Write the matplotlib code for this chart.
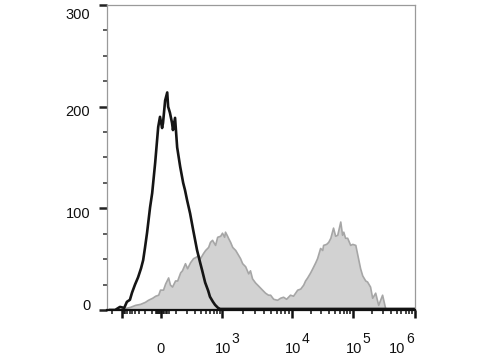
"""Flow cytometry overlay histogram: isotype (black line) vs stained (grey fill)."""

import matplotlib
matplotlib.use("Agg")
import matplotlib.pyplot as plt
import matplotlib.transforms as mtransforms
import numpy as np

plt.rcParams.update({
    "font.family": ["Liberation Sans", "DejaVu Sans"],
    "font.size": 10,
})

# channel (0-1024 display scale) vs event counts
ctrl_ch = [10, 27, 43, 57, 66, 76, 83, 93, 103, 113, 120, 126, 133, 143, 150,
           160, 170, 176, 183, 186, 193, 200, 203, 209, 216, 219, 226, 233,
           243, 253, 259, 266, 276, 286, 299, 309, 316, 326, 336, 342, 352,
           359, 369, 376, 400, 450, 500, 550, 600, 650, 700, 750, 800, 850,
           900, 950, 1000, 1024]
ctrl_cnt = [0, 0, 3, 2, 8, 10, 17, 25, 32, 41, 49, 61, 76, 101, 115,
            145, 180, 190, 179, 184, 206, 214, 200, 194, 184, 177, 189, 160,
            141, 125, 118, 108, 95, 79, 59, 47, 39, 27, 19, 13, 8,
            5, 2, 1, 1, 1, 1, 1, 1, 1, 1, 1, 1, 1,
            1, 1, 1, 1]

stain_ch = [50, 60, 76, 93, 110, 126, 136, 150, 160, 170, 176, 186, 193, 203,
            209, 216, 226, 233, 243, 249, 259, 266, 276, 286, 293, 303, 309,
            319, 326, 336, 342, 349, 359, 366, 376, 382, 389, 392, 399, 402,
            409, 416, 426, 432, 442, 449, 459, 469, 475, 482, 492, 502, 515,
            525, 535, 542, 552, 565, 575, 585, 595, 608, 618, 632, 642, 652,
            658, 665, 675, 682, 692, 698, 708, 715, 718, 728, 735, 742, 751,
            758, 765, 775, 781, 785, 791, 798, 808, 815, 825, 834, 841, 848,
            858, 864, 874, 881, 891, 901, 914, 924, 931, 958]
stain_cnt = [0, 2, 3, 5, 6, 8, 10, 12, 14, 15, 20, 20, 26, 32,
             25, 23, 29, 29, 37, 39, 46, 41, 47, 51, 52, 54, 51,
             56, 59, 62, 67, 69, 64, 72, 73, 76, 72, 77, 73, 71,
             67, 62, 59, 56, 51, 46, 43, 36, 39, 31, 27, 24, 20,
             17, 15, 15, 11, 10, 12, 13, 11, 15, 14, 20, 21, 25,
             29, 32, 37, 41, 47, 51, 61, 59, 64, 65, 67, 71, 81,
             73, 74, 87, 74, 77, 71, 71, 64, 65, 64, 51, 41, 34,
             29, 28, 23, 12, 17, 5, 15, 2, 0, 0]

y_ticks = [0, 100, 200, 300]
y_label_shift = [3, -4, -4, -7]   # labels sit a little off their ticks

# biexponential-like display scale: fluorescence value -> channel
ANCHOR_VAL = [-1e4, -1e3, 0, 1e3, 1e4, 1e5, 1e6, 1e7]
ANCHOR_CH = [-65, 50, 180, 382, 615, 818, 1024, 1230]
W = 150.0


def to_channel(v):
    s = np.arcsinh(np.asarray(v, dtype=float) / W)
    return np.interp(s, np.arcsinh(np.array(ANCHOR_VAL) / W), ANCHOR_CH)


major_vals = [-1e3, 0, 1e3, 1e4, 1e5, 1e6]
decade_exp = {1e3: "3", 1e4: "4", 1e5: "5", 1e6: "6"}
minor_vals = []
for m in range(1, 6):
    minor_vals += [m * 10, -m * 10]
for m in range(1, 10):
    minor_vals += [m * 100, -m * 100]
for dec in (1e3, 1e4, 1e5):
    minor_vals += [m * dec for m in range(2, 10)]
minor_vals += [-2000, -3000]

fig = plt.figure(figsize=(4.8, 3.6), dpi=100)
ax = fig.add_axes([0.223, 0.139, 0.642, 0.847])

ax.fill_between(stain_ch, stain_cnt, 0, facecolor="#d2d2d2",
                edgecolor="#a6a6a6", linewidth=1.2)
ax.plot(ctrl_ch, ctrl_cnt, color="#151515", linewidth=1.9)

ax.set_xlim(0, 1024)
ax.set_ylim(0, 300)

# y axis: ticks drawn by matplotlib, labels placed by hand
ax.set_yticks(y_ticks)
ax.set_yticklabels([])
ax.set_yticks(np.arange(0, 301, 25), minor=True)
ax.tick_params(axis="y", which="major", length=6, width=1.8, color="#222")
ax.tick_params(axis="y", which="minor", length=3, width=1.1, color="#333")
ytrans = mtransforms.blended_transform_factory(ax.transAxes, ax.transData)
for yv, dy in zip(y_ticks, y_label_shift):
    ax.annotate(str(yv), xy=(0, yv), xycoords=ytrans, xytext=(-12, dy),
                textcoords="offset points", ha="right", va="center",
                fontsize=10.5, color="#111", annotation_clip=False)

# x axis: biexponential ticks, "10" + raised exponent labels
ax.set_xticks(to_channel(major_vals))
ax.set_xticklabels([])
mv = [v for v in minor_vals if 0 <= to_channel(v) <= 1024]
ax.set_xticks(to_channel(mv), minor=True)
ax.tick_params(axis="x", which="major", length=6, width=1.8, color="#111")
ax.tick_params(axis="x", which="minor", length=3, width=1.1, color="#111")
xtrans = mtransforms.blended_transform_factory(ax.transData, ax.transAxes)
for v in major_vals:
    xc = float(to_channel(v))
    if v == 0:
        ax.annotate("0", xy=(xc, 0), xycoords=xtrans, xytext=(-0.5, -31),
                    textcoords="offset points", ha="center", va="baseline",
                    fontsize=10.5, color="#111", annotation_clip=False)
    elif v in decade_exp:
        dx = -13 if v == 1e6 else 0.5
        ax.annotate("10", xy=(xc, 0), xycoords=xtrans, xytext=(dx, -31),
                    textcoords="offset points", ha="center", va="baseline",
                    fontsize=10.5, color="#111", annotation_clip=False)
        ax.annotate(decade_exp[v], xy=(xc, 0), xycoords=xtrans,
                    xytext=(dx + 6.3, -24), textcoords="offset points",
                    ha="left", va="baseline", fontsize=10, color="#111",
                    annotation_clip=False)

for side in ("top", "right", "left"):
    ax.spines[side].set_color("#9a9a9a")
    ax.spines[side].set_linewidth(0.9)
ax.spines["bottom"].set_color("#111")
ax.spines["bottom"].set_linewidth(1.6)

fig.savefig("out.png", dpi=100)
